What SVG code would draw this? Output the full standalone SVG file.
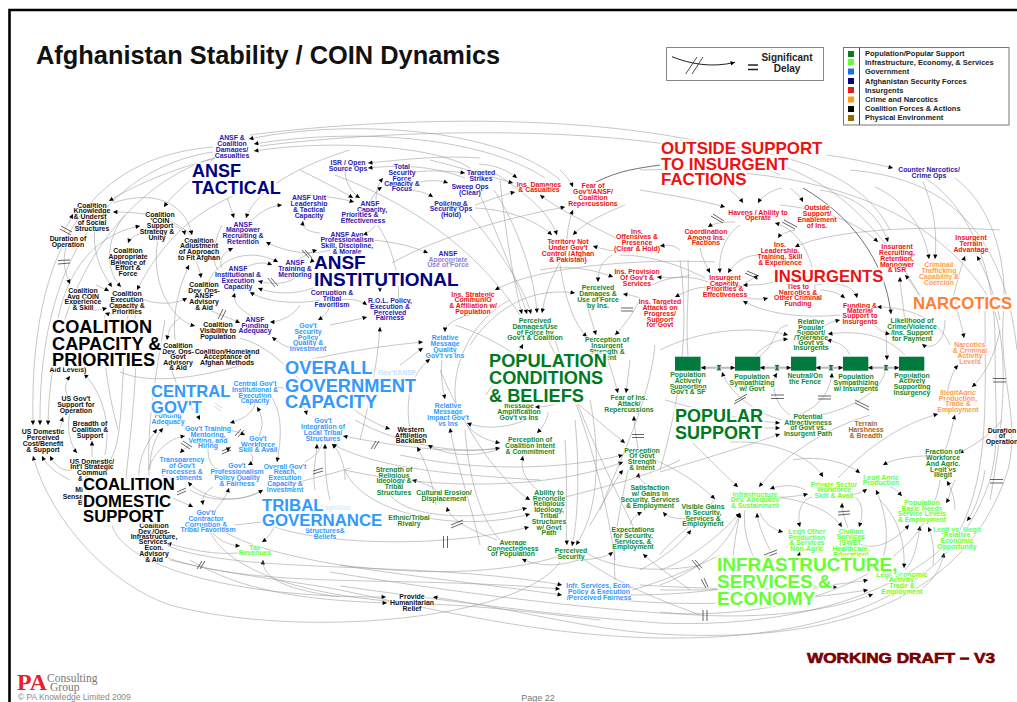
<svg xmlns="http://www.w3.org/2000/svg" width="1017" height="702" viewBox="0 0 1017 702">
<style>
text{font-family:"Liberation Sans",Arial,sans-serif;font-weight:700}
.n text{font-size:6.9px;text-anchor:middle;paint-order:stroke;stroke:#fff;stroke-width:1.5px;stroke-linejoin:round}
.a{fill:#2a20b0}.k{fill:#111}.b{fill:#3399ff}.r{fill:#ee1111}.g{fill:#11882a}.l{fill:#66ff33}.o{fill:#ff9955}.w{fill:#a5622a}
.big text{font-size:17px;paint-order:stroke;stroke:#fff;stroke-width:5px;stroke-opacity:.82;stroke-linejoin:round}
.stock{fill:#007a3d}
#connectors{fill:none;stroke:#999;stroke-width:.55}
#connectors path{marker-end:url(#a)}
#connectors path.na{marker-end:none}
#connectors path.dk{stroke:#333;stroke-width:.7}
#delays path{fill:none;stroke:#222;stroke-width:.7}
#pipes path{fill:none;stroke:#bbb;stroke-width:2;marker-start:url(#a);marker-end:url(#a)}
.leg text{font-size:7.5px;fill:#222}
</style>
<defs>
<marker id="a" viewBox="0 0 6 6" refX="6" refY="3" markerWidth="5" markerHeight="4.4" markerUnits="userSpaceOnUse" orient="auto-start-reverse"><path d="M0,0L6,3L0,6z" fill="#000" stroke="none"/></marker>
<path id="v" d="M-2.2,-2.6H2.2L.5,0L2.2,2.6H-2.2L-.5,0z" fill="#0a7a3a" stroke="#555" stroke-width=".3"/>
</defs>
<rect width="1017" height="702" fill="#fff"/>
<path d="M9.5,702V10H1017" fill="none" stroke="#000" stroke-width="2.6"/>
<text x="36" y="64" font-size="25.4" fill="#111">Afghanistan Stability / COIN Dynamics</text>

<g id="connectors">
<path d="M560,180C500,128 350,118 249,139"/><path d="M545,178C480,135 350,128 254,144"/><path d="M470,168C440,148 340,138 254,151"/>
<path d="M213,147C115,155 28,215 33,425"/><path d="M213,152C125,165 38,240 40,425"/><path d="M215,158C140,178 50,270 48,425"/>
<path d="M215,158C170,170 135,185 109,201"/><path d="M191,235C170,215 140,212 113,212"/><path d="M113,203C150,190 185,200 192,235"/>
<path d="M215,157C200,175 175,190 164,207"/><path d="M55,340C60,280 90,235 140,226"/><path d="M142,233C135,235 130,238 128,243"/><path d="M175,226C180,228 184,231 185,235"/>
<path d="M66,248C62,262 65,272 70,284"/><path d="M64,231C68,225 70,220 73,214"/><path d="M95,228C92,250 100,270 112,287"/><path d="M125,215C105,240 105,270 121,287"/>
<path d="M233,196C190,215 160,245 137,290"/><path d="M96,285C100,287 105,289 109,291"/><path d="M88,310C95,311 100,310 107,308"/><path d="M118,313C112,315 108,314 105,313"/>
<path d="M195,260C198,265 200,270 201,278"/><path d="M175,340C172,310 180,285 189,265"/><path d="M140,298C155,305 175,305 187,298"/><path d="M158,240C150,280 170,320 195,326"/>
<path d="M227,198C230,205 232,212 234,218"/><path d="M350,150C300,165 255,190 246,218"/><path d="M222,268C218,258 225,252 233,248"/><path class="na" d="M222,225C212,245 212,262 218,270"/>
<path d="M250,222C260,212 270,206 282,205"/><path d="M330,250C310,256 285,252 266,242"/><path d="M320,233C308,232 302,228 303,221"/><path d="M298,260C305,256 310,252 317,250"/>
<path d="M207,285C215,262 245,245 278,262"/><path d="M245,268C255,262 265,262 272,265"/><path d="M312,258C311,260 311,262 310,263"/>
<path d="M295,278C285,285 270,284 258,281"/><path d="M320,285C300,295 275,295 258,288"/><path d="M320,300C295,305 265,302 250,292"/><path d="M255,318C240,310 232,302 235,293"/>
<path d="M205,308C220,315 230,318 240,323"/><path d="M300,305C295,315 280,322 270,322"/><path d="M300,350C285,348 278,342 272,337"/><path d="M330,300C332,308 325,316 318,320"/>
<path class="na" d="M240,338C265,345 280,360 300,380"/><path d="M120,372C150,385 200,378 253,362"/>
<path d="M68,397C64,390 65,383 70,376"/><path d="M105,455C112,420 100,390 84,374"/><path d="M60,428C62,423 62,420 63,417"/><path d="M92,457L92,441"/><path d="M70,413C66,425 70,445 77,453"/>
<path d="M560,562C520,620 300,640 170,605C110,585 50,520 33,456"/><path d="M70,480C60,475 48,468 42,456"/><path d="M72,470C62,472 55,465 50,456"/>
<path d="M112,525C122,565 230,598 386,597"/><path d="M190,560C240,590 300,600 387,603"/>
<path class="na" d="M105,315C100,350 110,400 118,430"/><path class="na" d="M128,315C120,370 125,440 110,460"/><path class="na" d="M135,315C140,370 128,450 125,490"/><path class="na" d="M165,320C155,380 145,430 150,490"/>
<path d="M180,318C170,325 168,332 167,340"/><path d="M140,490C135,465 145,445 157,429"/><path d="M150,470C150,450 155,438 163,428"/>
<path d="M172,370C178,395 195,410 200,420"/><path d="M255,403C253,415 240,420 230,423"/><path d="M258,438C265,425 262,415 257,407"/><path d="M225,430C232,430 238,432 245,435"/>
<path d="M148,470C155,450 170,438 185,436"/><path d="M190,445C186,448 183,450 180,453"/><path d="M228,447L228,452"/><path d="M250,452C255,460 252,463 248,465"/><path class="na" d="M208,448C208,465 215,470 222,470"/>
<path d="M270,395C285,415 280,445 277,462"/><path d="M275,387C290,388 300,392 307,415"/><path d="M263,490C240,505 205,500 188,482"/><path d="M190,490C215,505 245,500 263,490"/><path d="M215,510C220,505 226,497 229,488"/>
<path d="M305,462C312,458 320,452 322,444" class="na"/><path d="M315,490C312,475 316,460 317,444"/><path d="M330,500C325,480 325,460 325,444"/><path d="M345,480C345,465 340,452 332,444"/>
<path class="na" d="M290,485C310,478 330,475 350,468"/><path d="M500,448C450,455 390,445 343,436"/><path d="M540,480C460,475 380,470 332,444"/><path d="M400,455C480,472 560,470 623,455"/>
<path d="M168,495C175,500 185,503 193,507"/><path d="M213,487C205,492 202,497 203,505"/><path d="M210,530C218,540 228,545 240,546"/><path d="M275,525C272,532 268,538 262,542"/><path d="M340,597C290,590 262,580 263,560"/>
<path class="na" d="M210,532C230,570 300,600 450,605C500,608 530,612 600,620"/><path class="na" d="M235,525L262,522"/><path d="M238,553C215,555 190,550 167,543"/>
<path d="M168,558C260,590 400,575 560,589"/><path d="M168,546C240,575 420,560 562,585"/><path d="M225,532C280,565 420,575 562,595"/>
<path d="M260,520C300,545 440,550 529,527"/><path d="M345,470C360,510 450,535 530,514"/><path d="M390,495C410,520 480,520 527,508"/><path d="M440,370C470,440 500,480 530,500"/><path class="na" d="M465,430C470,490 485,525 500,540"/>
<path d="M300,362C340,352 390,345 423,342"/><path d="M400,365C410,358 415,353 423,348"/><path d="M410,430C405,400 410,375 430,359"/><path d="M473,314C455,318 445,325 445,332"/><path d="M442,360C440,375 443,390 445,399"/><path d="M365,240C385,240 410,245 428,253"/>
<path d="M455,325C520,345 570,400 625,443"/><path d="M530,418C510,428 485,430 467,423"/><path d="M480,545C470,500 455,460 450,428"/><path d="M560,402C555,405 545,407 535,407"/><path d="M548,412C548,420 542,428 537,433"/>
<path d="M467,425C475,435 485,440 500,443"/><path d="M355,420C400,445 460,455 500,448"/><path d="M540,492C525,480 520,470 523,456"/><path d="M497,450C470,458 445,455 428,445"/><path d="M436,505C432,480 425,460 417,447"/><path d="M355,410C365,418 378,425 390,429"/>
<path d="M436,490C430,485 420,482 412,480"/><path d="M497,540C470,530 450,520 447,507"/><path d="M486,395C495,380 515,360 523,344"/><path class="na" d="M456,403C450,370 470,320 510,300"/>
<path d="M500,180C505,230 515,290 522,314"/><path d="M480,195C500,240 520,290 527,314"/><path d="M470,215C500,250 525,290 531,314"/><path d="M494,190C520,230 535,280 537,313"/><path d="M560,262C550,280 545,295 542,313"/>
<path d="M475,208C510,210 535,220 552,235"/><path d="M493,172C530,195 550,215 557,235"/><path d="M625,205C600,215 582,225 573,235"/><path d="M630,252C617,252 605,250 593,246"/><path d="M680,250C672,244 668,245 660,246"/>
<path d="M392,263C440,235 520,215 565,207"/><path d="M566,262C566,240 568,222 573,210"/><path d="M479,164C495,165 507,170 517,178"/><path d="M430,160C470,170 495,178 513,183"/><path d="M475,205C490,200 502,195 515,192"/><path d="M620,240C590,225 560,210 540,195"/><path d="M560,170C565,175 570,180 573,187"/>
<path d="M415,172C430,170 450,171 465,173"/><path d="M420,182C430,180 440,180 448,183"/><path d="M405,190C415,190 425,192 433,197"/><path d="M480,158C440,155 400,160 368,163"/><path d="M465,178C430,165 400,165 368,168"/>
<path d="M369,205C372,197 376,191 382,187"/><path d="M376,200C376,190 378,184 383,178"/><path d="M300,170C320,180 340,190 353,198"/><path d="M300,195C320,195 340,198 354,202"/><path d="M345,170C345,180 350,192 360,198"/><path d="M375,225C372,230 368,233 363,235"/>
<path d="M380,280L380,292"/><path d="M340,300C350,298 360,300 367,305"/><path d="M330,325C345,322 355,320 367,317"/><path d="M360,440C370,400 378,360 380,327"/><path class="na" d="M378,225C400,260 402,300 395,320"/><path class="na" d="M335,175C400,200 470,240 520,315"/>
<path d="M612,255C600,262 598,272 598,282"/><path d="M540,270C565,265 590,268 613,277"/><path d="M690,275C680,278 668,278 657,277"/><path d="M470,345C500,300 540,288 575,293"/><path d="M640,298C635,296 630,295 623,294"/><path d="M715,262C620,258 530,270 495,290"/>
<path d="M560,265C565,300 575,325 587,337"/><path d="M585,300C590,315 593,325 596,335"/><path d="M640,300C632,315 622,328 615,335"/><path d="M608,360C612,372 615,382 618,393"/><path d="M630,360L626,393"/><path d="M638,448C636,435 634,425 634,416"/>
<path d="M345,470C430,490 550,490 623,462"/><path d="M590,525C605,500 615,480 623,470"/><path d="M646,484C640,480 638,477 639,473"/><path d="M630,525C632,518 636,515 642,512"/><path d="M690,518C680,520 668,518 663,512"/><path d="M690,590C670,575 655,565 643,554"/><path d="M575,560C590,560 605,558 613,552"/><path d="M640,570C660,560 680,545 691,530"/>
<path d="M565,440C568,480 565,520 567,545"/><path d="M575,420C580,470 578,520 572,546"/><path d="M590,400C600,450 600,510 576,545"/><path d="M578,560C555,568 535,565 522,559"/><path class="na" d="M560,556C500,575 420,575 340,565"/><path class="na" d="M585,552C620,575 680,570 700,565"/><path class="na" d="M582,558C620,585 660,600 700,615"/>
<path class="na" d="M632,590C650,585 680,575 720,555"/><path class="na" d="M630,595C680,595 720,590 740,585"/><path class="na" d="M615,580C612,540 620,510 628,470"/><path class="na" d="M535,505C590,490 640,480 680,460"/>
<path class="na" d="M555,340C575,400 590,440 640,540"/><path class="na" d="M548,340C590,420 610,520 615,560"/><path class="na" d="M655,345C650,400 620,460 600,510"/><path class="na" d="M680,260C690,330 680,400 660,470"/>
<path d="M640,190C670,195 700,200 725,207"/><path d="M730,190C735,195 740,198 743,203"/><path d="M782,188C772,190 762,196 758,203"/><path d="M790,188C795,192 800,196 803,202"/><path d="M815,290C815,260 800,230 775,223"/><path d="M735,222C722,222 714,223 708,227"/><path d="M795,230C785,232 780,235 778,238"/><path d="M1000,230C920,225 830,230 795,247"/>
<path d="M700,248C702,258 706,265 710,273"/><path d="M740,225C725,235 718,255 720,273"/><path d="M760,255C745,255 735,262 728,273"/><path d="M745,283C750,280 755,278 758,275"/><path d="M773,282C765,285 755,285 743,285"/><path d="M840,315C810,318 770,316 743,301"/><path d="M740,296C750,299 760,300 768,298"/><path d="M708,287C695,287 685,292 675,297"/><path class="na" d="M620,255C650,255 680,265 705,278"/><path class="na" d="M648,287C670,275 690,275 708,282"/>
<path d="M820,290C830,290 838,293 845,298"/><path d="M815,285C840,280 855,288 857,298"/><path d="M950,345C940,320 910,307 877,307"/><path d="M815,335C822,325 830,322 840,320"/><path d="M780,205C830,210 860,225 878,242"/><path d="M820,190C855,195 880,215 888,242"/><path d="M905,330C905,310 900,290 900,277"/><path d="M925,300C915,290 910,280 905,275"/>
<path d="M875,187C905,200 925,230 929,259"/><path d="M923,182C935,210 937,235 935,259"/><path d="M950,310C955,290 960,270 965,256"/><path d="M1000,320C995,295 985,270 977,256"/><path d="M827,155C850,158 870,163 893,168"/><path class="na dk" d="M596,182C620,170 640,168 660,165"/><path class="dk" d="M803,188C850,215 885,260 891,314"/>
<path class="na" d="M250,135C400,115 700,105 830,190C880,225 920,290 925,310"/><path class="na" d="M260,146C430,125 680,125 780,175"/><path class="na" d="M640,170C800,165 930,200 990,300C1010,340 1005,420 990,500"/><path class="na" d="M850,170C900,175 1000,190 1017,350"/><path class="na" d="M680,140C780,150 860,170 890,230"/>
<path d="M955,300C958,315 962,325 964,338"/><path d="M1000,330C995,355 985,375 972,387"/><path d="M947,410C945,395 950,375 958,365"/><path d="M838,478C870,445 900,425 938,414"/><path d="M945,450C950,440 952,425 955,415"/><path d="M1002,420C990,435 975,445 959,453"/><path d="M955,510C955,500 952,490 947,481"/>
<path d="M782,420C760,415 730,395 722,372"/><path d="M790,415C775,405 770,385 777,373"/><path d="M795,416C815,410 830,395 832,373"/><path d="M886,330L887,360"/><path class="na" d="M800,418C840,415 880,395 885,372"/>
<path d="M665,400C700,410 740,420 780,423"/><path d="M730,425C745,428 765,428 780,428"/><path d="M660,472C700,460 750,445 780,434"/>
<path d="M660,350C700,330 750,325 788,335"/><path d="M755,355C765,345 775,340 788,339"/><path d="M905,355C885,335 860,330 828,334"/><path d="M850,355C845,345 838,342 827,340"/><path d="M872,322C878,330 884,333 890,334"/><path d="M945,320C945,345 930,350 922,344"/><path class="na" d="M688,356C685,320 690,290 688,260"/><path class="na" d="M760,356C780,340 770,330 788,325"/>
<path d="M730,442C770,440 810,455 823,477"/><path d="M793,460C820,455 845,462 860,473"/><path d="M945,456C915,455 895,458 883,465"/><path d="M693,443C710,460 725,475 738,487"/><path d="M870,415C820,430 780,460 759,487"/><path d="M805,490C795,484 780,485 770,489"/><path d="M768,497C785,498 798,496 808,494"/><path d="M838,495C850,496 860,494 867,489"/><path d="M880,565C892,540 885,510 876,490"/><path d="M890,487C895,488 898,492 902,496"/><path d="M955,480C950,490 950,497 946,503"/><path d="M985,470C982,490 975,510 967,521"/><path d="M920,590C935,580 942,565 944,553"/>
<path d="M848,528C845,520 842,512 842,503"/><path d="M855,497C865,505 862,518 859,527"/><path d="M775,497C805,500 830,510 842,527"/><path d="M812,497C800,500 797,515 800,527"/><path d="M760,513C765,525 775,530 783,532"/><path d="M660,570C690,560 720,535 740,513"/><path d="M660,585C700,570 730,545 740,513"/><path d="M733,565C733,545 738,525 740,513"/><path d="M770,550C765,540 758,525 757,513"/><path class="na" d="M745,510C742,530 750,550 755,560"/>
<path d="M860,545C880,550 895,540 909,525"/><path d="M905,570C915,560 918,540 920,526"/><path d="M933,565C935,550 932,535 928,527"/><path d="M880,500C900,520 905,545 904,568"/><path d="M790,570C795,565 798,558 800,552"/>
<path d="M600,598C700,610 800,600 868,590"/><path d="M640,585C720,590 790,590 837,587"/><path d="M660,590C730,590 810,590 868,580"/><path d="M660,612C750,622 830,612 873,594"/>
<path class="na" d="M715,499C700,520 665,545 660,555"/><path d="M650,458C680,470 700,485 715,499"/>
<path d="M955,178C985,200 1010,250 1003,320C1000,380 1020,420 1008,470C960,620 800,642 660,634C590,630 520,610 433,597"/>
<path class="na" d="M925,178C975,210 995,280 995,340C995,420 1000,440 990,480C950,600 820,640 660,638C560,636 480,620 340,590C300,582 230,575 170,560"/>
<path class="na" d="M985,300C985,400 990,470 960,530C900,600 780,628 660,623C560,616 440,600 340,586"/>
<path class="na" d="M940,480C930,560 820,622 660,613C560,606 440,590 330,572"/>
</g>
<g id="delays">
<path d="M61,226L72,232M60,229L71,235M58,260.5L70,260M58,264L70,263M218,319L223,309M221,320L226,310M302,250L309,258M305,250L312,258M268,278L275,287M271,278L278,286M235,436L241,429M238,437L244,430M181,443L190,449M183,441L192,447M222,451L231,447M222,454L231,450M313,471L323,468M313,474L323,471M177,492L186,488M177,495L186,491M197,569L202,561M200,569L205,561M371,449L376,441M374,449L379,441M451,525L463,520M451,528L463,523M443.5,536L443.5,548M447.5,536L447.5,548M632,434.5L644,434.5M632,437.5L644,437.5M621,308L633,308M621,311L633,311M711,216L723,223M713,214L724,221M782,222L795,229M784,220L797,227M745,273L758,279M747,271L759,276M734,404L746,397M735,401L747,394M771,395L784,395M771,398.5L784,398.5M818,396L831,396M818,399L831,399M855,400L869,407M855,403L869,410M993,378.5L1006,378.5M993,382L1006,382M990,479.5L1003,479.5M990,483L1003,483M838,512L850,511M838,515L850,514M764,555L777,550M764,558L777,553M692,560L700,570M695,560L702,568M701,579L706,588M704,578L708,587M703,610L703,621M707,610L707,621"/>
<path d="M215,403L222,408M214,406L221,411" opacity=".25"/>
</g>
<g id="pipes"><path d="M701,367.7H735"/><path d="M760,367.7H791"/><path d="M816,367.7H843"/><path d="M868,367.7H899"/></g>

<g id="n-ansf-damages" class="n a"><text x="232" y="140">ANSF &amp;<tspan x="232" y="146">Coalition</tspan><tspan x="232" y="152">Damages/</tspan><tspan x="232" y="157.6">Casualties</tspan></text></g>
<g id="n-knowledge" class="n k"><text x="92" y="207.6">Coalition<tspan x="92" y="213.3">Knowledge</tspan><tspan x="90" y="219.3">&amp; Underst</tspan><tspan x="92" y="225">of Social</tspan><tspan x="92" y="230.6">Structures</tspan></text></g>
<g id="n-duration" class="n k"><text x="68" y="241">Duration of<tspan x="68" y="246.6">Operation</tspan></text></g>
<g id="n-coin" class="n k"><text x="160" y="217">Coalition<tspan x="160" y="222.6">'COIN</tspan><tspan x="160" y="228.3">Support</tspan><tspan x="157" y="234">Strategy &amp;</tspan><tspan x="157" y="240">Unity</tspan></text></g>
<g id="n-appropriate" class="n k"><text x="128" y="253">Coalition<tspan x="128" y="258.6">Appropriate</tspan><tspan x="128" y="264.6">Balance of</tspan><tspan x="128" y="270.3">Effort &amp;</tspan><tspan x="128" y="276">Force</tspan></text></g>
<g id="n-adjust" class="n k"><text x="199" y="242.6">Coalition<tspan x="199" y="248.3">Adjustment</tspan><tspan x="199" y="254">of Approach</tspan><tspan x="199" y="260">to Fit Afghan</tspan></text></g>
<g id="n-avgcoin" class="n k"><text x="83" y="292.6">Coalition<tspan x="83" y="298.6">Avg COIN</tspan><tspan x="83" y="304.3">Experience</tspan><tspan x="83" y="310">&amp; Skill</tspan></text></g>
<g id="n-exec" class="n k"><text x="127" y="296">Coalition<tspan x="127" y="302">Execution</tspan><tspan x="127" y="307.6">Capacity &amp;</tspan><tspan x="127" y="313.6">Priorities</tspan></text></g>
<g id="n-devops-ansf" class="n k"><text x="204" y="287">Coalition<tspan x="204" y="292.6">Dev. Ops-</tspan><tspan x="204" y="298.3">ANSF</tspan><tspan x="204" y="304.3">Advisory</tspan><tspan x="204" y="310.3">&amp; Aid</tspan></text></g>
<g id="n-manpower" class="n a"><text x="243" y="226.6">ANSF<tspan x="243" y="232.3">Manpower</tspan><tspan x="243" y="238">Recruiting &amp;</tspan><tspan x="243" y="244">Retention</tspan></text></g>
<g id="n-instexec" class="n a"><text x="238" y="271.3">ANSF<tspan x="238" y="277.3">Institutional &amp;</tspan><tspan x="238" y="283">Execution</tspan><tspan x="238" y="289">Capacity</tspan></text></g>
<g id="n-training" class="n a"><text x="295" y="265.3">ANSF<tspan x="295" y="271.3">Training &amp;</tspan><tspan x="295" y="277">Mentoring</tspan></text></g>
<g id="n-unit" class="n a"><text x="309" y="200.3">ANSF Unit<tspan x="309" y="206">Leadership</tspan><tspan x="309" y="211.6">&amp; Tactical</tspan><tspan x="309" y="217.6">Capacity</tspan></text></g>
<g id="n-avgprof" class="n a"><text x="347" y="236.6">ANSF Avg<tspan x="347" y="242.3">Professionalism</tspan><tspan x="347" y="248">Skill, Discipline,</tspan><tspan x="347" y="254">&amp; Morale</tspan></text></g>
<g id="n-isr" class="n a"><text x="348" y="165">ISR / Open<tspan x="348" y="171">Source Ops</tspan></text></g>
<g id="n-total" class="n a"><text x="402" y="169">Total<tspan x="402" y="175">Security</tspan><tspan x="402" y="180.6">Force</tspan><tspan x="402" y="186.3">Capacity &amp;</tspan><tspan x="402" y="191.3">Focus</tspan></text></g>
<g id="n-strikes" class="n a"><text x="481" y="175">Targeted<tspan x="481" y="181">Strikes</tspan></text></g>
<g id="n-sweep" class="n a"><text x="470" y="189.3">Sweep Ops<tspan x="470" y="195.3">(Clear)</tspan></text></g>
<g id="n-policing" class="n a"><text x="451" y="205.6">Policing &amp;<tspan x="451" y="211.3">Security Ops</tspan><tspan x="451" y="217.3">(Hold)</tspan></text></g>
<g id="n-capacity" class="n a"><text x="370" y="206.3">ANSF<tspan x="372" y="211.6">Capacity,</tspan><tspan x="360" y="217.3">Priorities &amp;</tspan><tspan x="363" y="223.3">Effectiveness</tspan></text></g>
<g id="n-force" class="n a"><text x="448" y="255.6">ANSF<tspan x="448" y="261.6" opacity=".55">Appropriate</tspan><tspan x="448" y="267.3" opacity=".55">Use of Force</tspan></text></g>
<g id="n-corrupt" class="n a"><text x="332" y="295.3">Corruption &amp;<tspan x="332" y="301.3">Tribal</tspan><tspan x="332" y="307.3">Favoritism</tspan></text></g>
<g id="n-rol" class="n a"><text x="390" y="303">R.O.L. Policy,<tspan x="390" y="309">Execution &amp;</tspan><tspan x="390" y="314.6">Perceived</tspan><tspan x="390" y="320.3">Fairness</tspan></text></g>
<g id="n-strategic" class="n r"><text x="473" y="296.6">Ins. Strategic<tspan x="473" y="302.3">CommunIO</tspan><tspan x="473" y="308.3">&amp; Affiliation w/</tspan><tspan x="473" y="314">Population</tspan></text></g>
<g id="n-insdmg" class="n r"><text x="539" y="187">Ins. Damages<tspan x="539" y="192.3">&amp; Casualties</tspan></text></g>
<g id="n-fear" class="n r"><text x="593" y="188.3">Fear of<tspan x="593" y="194.3">Gov't/ANSF/</tspan><tspan x="593" y="200.3">Coalition</tspan><tspan x="593" y="206">Repercussions</tspan></text></g>
<g id="n-territory" class="n r"><text x="568" y="244.3">Territory Not<tspan x="568" y="250">Under Gov't</tspan><tspan x="568" y="255.6">Control (Afghan</tspan><tspan x="568" y="261.6">&amp; Pakistan)</tspan></text></g>
<g id="n-offens" class="n r"><text x="637" y="233.6">Ins.<tspan x="637" y="239.3">Offensives &amp;</tspan><tspan x="637" y="245.3">Presence</tspan><tspan x="637" y="251">(Clear &amp; Hold)</tspan></text></g>
<g id="n-prov" class="n r"><text x="637" y="274.3">Ins. Provision<tspan x="637" y="280">Of Gov't &amp;</tspan><tspan x="637" y="285.6">Services</tspan></text></g>
<g id="n-pdmgins" class="n g"><text x="598" y="290.3">Perceived<tspan x="598" y="296">Damages &amp;</tspan><tspan x="598" y="301.6">Use of Force</tspan><tspan x="598" y="307.6">by Ins.</tspan></text></g>
<g id="n-targeted" class="n r"><text x="660" y="304">Ins. Targeted<tspan x="660" y="310">Attacks on</tspan><tspan x="660" y="315.6">Progress/</tspan><tspan x="660" y="321.6">Support</tspan><tspan x="660" y="327.3">for Govt</tspan></text></g>
<g id="n-pdmg" class="n g"><text x="535" y="323">Perceived<tspan x="535" y="329">Damages/Use</tspan><tspan x="535" y="334.6">of Force by</tspan><tspan x="535" y="340.3">Gov't &amp; Coalition</tspan></text></g>
<g id="n-percins" class="n g"><text x="607" y="342.3">Perception of<tspan x="607" y="348.3">Insurgent</tspan><tspan x="607" y="354">Strength &amp;</tspan><tspan x="607" y="359.6">Intent</tspan></text></g>
<g id="n-quality" class="n b"><text x="445" y="340.3">Relative<tspan x="445" y="346.3">Message</tspan><tspan x="445" y="352">Quality</tspan><tspan x="445" y="357.6">Gov't vs Ins</tspan></text></g>
<g id="n-impact" class="n b"><text x="448" y="408.3">Relative<tspan x="448" y="414.3">Message</tspan><tspan x="448" y="420">Impact Gov't</tspan><tspan x="448" y="426">vs Ins</tspan></text></g>
<g id="n-govansf" class="n b" opacity=".3"><text x="397" y="375.3">Gov't/ANSF</text></g>
<g id="n-western" class="n k"><text x="411" y="431.6">Western<tspan x="411" y="437.6">Affiliation</tspan><tspan x="411" y="443.3">Backlash</tspan></text></g>
<g id="n-amp" class="n g"><text x="519" y="408.3">message<tspan x="519" y="414">Amplification</tspan><tspan x="519" y="419.6">Gov't vs Ins</tspan></text></g>
<g id="n-percco" class="n g"><text x="530" y="441.6">Perception of<tspan x="530" y="447.6">Coalition Intent</tspan><tspan x="530" y="453.6">&amp; Commitment</tspan></text></g>
<g id="n-fearins" class="n g"><text x="629" y="400.3">Fear of Ins.<tspan x="629" y="406.3">Attack/</tspan><tspan x="629" y="412">Repercussions</tspan></text></g>
<g id="n-percgov" class="n g"><text x="642" y="452.6">Perception<tspan x="642" y="458.3">Of Govt</tspan><tspan x="642" y="464.3">Strength</tspan><tspan x="642" y="470">&amp; Intent</tspan></text></g>
<g id="n-strength" class="n g"><text x="394" y="471.6">Strength of<tspan x="394" y="477.6">Religious</tspan><tspan x="394" y="483.3">Ideology &amp;</tspan><tspan x="394" y="489">Tribal</tspan><tspan x="394" y="495">Structures</tspan></text></g>
<g id="n-erosion" class="n g"><text x="444" y="495.3">Cultural Erosion/<tspan x="444" y="501">Displacement</tspan></text></g>
<g id="n-ability" class="n g"><text x="549" y="495">Ability to<tspan x="549" y="500.6">Reconcile</tspan><tspan x="549" y="506.3">Religious</tspan><tspan x="549" y="512.3">Ideology,</tspan><tspan x="549" y="518">Tribal</tspan><tspan x="549" y="524">Structures</tspan><tspan x="549" y="529.6">w/ Govt</tspan><tspan x="549" y="534.6">Path</tspan></text></g>
<g id="n-ethnic" class="n g"><text x="409" y="519.6">Ethnic/Tribal<tspan x="409" y="525.6">Rivalry</tspan></text></g>
<g id="n-connect" class="n g"><text x="513" y="545">Average<tspan x="513" y="550.6">Connectedness</tspan><tspan x="513" y="556.3">of Population</tspan></text></g>
<g id="n-security" class="n g"><text x="571" y="553">Perceived<tspan x="571" y="559">Security</tspan></text></g>
<g id="n-satisf" class="n g"><text x="650" y="490.3">Satisfaction<tspan x="650" y="496.3">w/ Gains in</tspan><tspan x="650" y="502">Security, Services</tspan><tspan x="650" y="508">&amp; Employment</tspan></text></g>
<g id="n-expect" class="n g"><text x="633" y="532.3">Expectations<tspan x="633" y="538">for Security,</tspan><tspan x="633" y="543.6">Services, &amp;</tspan><tspan x="633" y="549.3">Employment</tspan></text></g>
<g id="n-infr" class="n b"><text x="599" y="588">Infr, Services, Econ.<tspan x="599" y="594">Policy &amp; Execution</tspan><tspan x="599" y="599.6">/Perceived Fairness</tspan></text></g>
<g id="n-relief" class="n k"><text x="412" y="599">Provide<tspan x="412" y="605">Humanitarian</tspan><tspan x="412" y="611">Relief</tspan></text></g>
<g id="n-tax" class="n l"><text x="255" y="549.6">Tax<tspan x="255" y="555.3">Revenues</tspan></text></g>
<g id="n-contractor" class="n b"><text x="206" y="515">Gov't/<tspan x="206" y="521">Contractor</tspan><tspan x="206" y="526.6">Corruption &amp;</tspan><tspan x="208" y="532.3">Tribal Favoritism</tspan></text></g>
<g id="n-devinfr" class="n k"><text x="154" y="528">Coalition<tspan x="154" y="533.6">Dev./Ops-</tspan><tspan x="154" y="538.6">Infrastructure,</tspan><tspan x="154" y="544.3">Services,</tspan><tspan x="154" y="550.3">Econ.</tspan><tspan x="154" y="556">Advisory</tspan><tspan x="154" y="562">&amp; Aid</tspan></text></g>
<g id="n-mil" class="n k"><text x="83" y="492.3" style="text-anchor:end">Mi<tspan x="83" y="499">Sensa</tspan><tspan x="83" y="505">B</tspan></text></g>
<g id="n-aidlev" class="n k"><text x="68" y="371.5">Aid Levels)</text></g>
<g id="n-usgov" class="n k"><text x="76" y="400.6">US Gov't<tspan x="76" y="406.6">Support for</tspan><tspan x="76" y="412.6">Operation</tspan></text></g>
<g id="n-breadth" class="n k"><text x="90" y="426.3">Breadth of<tspan x="90" y="432.3">Coalition &amp;</tspan><tspan x="90" y="438.3">Support</tspan></text></g>
<g id="n-usdom" class="n k"><text x="43" y="434.3">US Domestic<tspan x="43" y="440.3">Perceived</tspan><tspan x="43" y="446">Cost/Benefit</tspan><tspan x="43" y="452">&amp; Support</tspan></text></g>
<g id="n-usint" class="n k"><text x="92" y="463.6">US Domestic/<tspan x="92" y="469.3">Int'l Strategic</tspan><tspan x="92" y="475.3">Commun</tspan><tspan x="84" y="481">&amp; D</tspan></text></g>
<g id="n-visibility" class="n k"><text x="218" y="327">Coalition<tspan x="218" y="332.6">Visibility to</tspan><tspan x="218" y="338.6">Population</tspan></text></g>
<g id="n-funding" class="n a"><text x="255" y="321.6">ANSF<tspan x="255" y="327.6">Funding</tspan><tspan x="255" y="333.3">Adequacy</tspan></text></g>
<g id="n-secpol" class="n b"><text x="308" y="327.6">Gov't<tspan x="308" y="333.6">Security</tspan><tspan x="308" y="339.6">Policy</tspan><tspan x="308" y="345.3">Quality &amp;</tspan><tspan x="308" y="351">Investment</tspan></text></g>
<g id="n-devgov" class="n k"><text x="178" y="348.3">Coalition<tspan x="178" y="354">Dev. Ops-</tspan><tspan x="178" y="359.3">Govt</tspan><tspan x="178" y="364.6">Advisory</tspan><tspan x="178" y="370">&amp; Aid</tspan></text></g>
<g id="n-homeland" class="n k"><text x="227" y="354">Coalition/Homeland<tspan x="227" y="359.3">Acceptance of</tspan><tspan x="227" y="364.6">Afghan Methods</tspan></text></g>
<g id="n-central" class="n b"><text x="255" y="386">Central Gov't<tspan x="255" y="391.6">Institutional &amp;</tspan><tspan x="255" y="397.6">Execution</tspan><tspan x="255" y="403.3">Capacity</tspan></text></g>
<g id="n-funding-gov" class="n b"><text x="168" y="418">Funding<tspan x="168" y="424">Adequacy</tspan></text></g>
<g id="n-govtrain" class="n b"><text x="208" y="431.3">Gov't Training<tspan x="208" y="437">Mentoring,</tspan><tspan x="208" y="442.6">Vetting, and</tspan><tspan x="208" y="448.3">Hiring</tspan></text></g>
<g id="n-workforce" class="n b"><text x="258" y="440.6">Gov't<tspan x="258" y="446.6">Workforce</tspan><tspan x="258" y="452.3">Skill &amp; Avail</tspan></text></g>
<g id="n-transp" class="n b"><text x="182" y="462.3">Transparency<tspan x="182" y="468">of Gov't</tspan><tspan x="182" y="474">Processes &amp;</tspan><tspan x="182" y="479.6">Investments</tspan></text></g>
<g id="n-prof" class="n b"><text x="237" y="468.3">Gov't<tspan x="237" y="474.3">Professionalism</tspan><tspan x="237" y="480.3">Policy Quality</tspan><tspan x="237" y="486">&amp; Fairness</tspan></text></g>
<g id="n-overall" class="n b"><text x="285" y="468.6">Overall Gov't<tspan x="285" y="474.3">Reach,</tspan><tspan x="285" y="480.3">Execution</tspan><tspan x="285" y="486.3">Capacity &amp;</tspan><tspan x="285" y="492">Investment</tspan></text></g>
<g id="n-integration" class="n b"><text x="323" y="423">Gov't<tspan x="323" y="429">Integration of</tspan><tspan x="323" y="434.6">Local Tribal</tspan><tspan x="323" y="440.6">Structures</tspan></text></g>
<g id="n-beliefs" class="n b"><text x="325" y="533.3">Structures&amp;<tspan x="325" y="538.6">Beliefs</tspan></text></g>
<g id="n-cogn" class="n b" opacity=".2"><text x="335" y="510">Cognition</text></g>
<g id="n-havens" class="n r"><text x="758" y="215">Havens / Ability to<tspan x="758" y="220.3">Operate</tspan></text></g>
<g id="n-outside" class="n r"><text x="817" y="210">Outside<tspan x="817" y="216">Support/</tspan><tspan x="817" y="221.6">Enablement</tspan><tspan x="817" y="227.6">of Ins.</tspan></text></g>
<g id="n-coord" class="n r"><text x="706" y="233.6">Coordination<tspan x="706" y="239.6">Among Ins.</tspan><tspan x="706" y="245.3">Factions</tspan></text></g>
<g id="n-leader" class="n r"><text x="780" y="247.3">Ins.<tspan x="780" y="253">Leadership,</tspan><tspan x="780" y="259">Training, Skill</tspan><tspan x="780" y="264.6">&amp; Experience</tspan></text></g>
<g id="n-inscap" class="n r"><text x="725" y="279.6">Insurgent<tspan x="725" y="285.6">Capacity,</tspan><tspan x="725" y="291.3">Priorities &amp;</tspan><tspan x="725" y="297.3">Effectiveness</tspan></text></g>
<g id="n-ties" class="n r"><text x="798" y="289">Ties to<tspan x="798" y="294.6">Narcotics &amp;</tspan><tspan x="798" y="300.3">Other Criminal</tspan><tspan x="798" y="306">Funding</tspan></text></g>
<g id="n-fundmat" class="n r"><text x="860" y="307.6">Funding &amp;<tspan x="860" y="312.6">Material</tspan><tspan x="860" y="318.3">Support to</tspan><tspan x="860" y="323.6">Insurgents</tspan></text></g>
<g id="n-recruit" class="n r"><text x="897" y="249.3">Insurgent<tspan x="897" y="255">Recruiting,</tspan><tspan x="897" y="261">Retention,</tspan><tspan x="897" y="266.6">Manpower</tspan><tspan x="897" y="272.3">&amp; ISR</tspan></text></g>
<g id="n-counter" class="n a"><text x="929" y="172.3">Counter Narcotics/<tspan x="929" y="178">Crime Ops</tspan></text></g>
<g id="n-terrainadv" class="n r"><text x="971" y="240.3">Insurgent<tspan x="971" y="246">Terrain</tspan><tspan x="971" y="252">Advantage</tspan></text></g>
<g id="n-criminal" class="n o"><text x="939" y="267.3">Criminal/<tspan x="939" y="273">Trafficking</tspan><tspan x="939" y="279">Capability &amp;</tspan><tspan x="939" y="285">Coercion</tspan></text></g>
<g id="n-likely" class="n g"><text x="912" y="322.6">Likelihood of<tspan x="912" y="328.6">Crime/Violence</tspan><tspan x="912" y="335">/Ins. Support</tspan><tspan x="912" y="341">for Payment</tspan></text></g>
<g id="n-relpop" class="n g"><text x="811" y="324">Relative<tspan x="811" y="329.6">Popular</tspan><tspan x="811" y="334.6">Support/</tspan><tspan x="811" y="339.6">/Tolerance</tspan><tspan x="811" y="345">Govt vs</tspan><tspan x="811" y="350.3">Insurgents</tspan></text></g>
<g id="n-pop1" class="n g"><rect class="stock" x="675" y="356.7" width="25.6" height="14"/><text x="688" y="376.6">Population<tspan x="688" y="382.6">Actively</tspan><tspan x="688" y="388.6">Supporting</tspan><tspan x="688" y="394.3">Gov't &amp; SF</tspan></text></g>
<g id="n-pop2" class="n g"><rect class="stock" x="735" y="356.7" width="25.3" height="14"/><text x="752" y="379.3">Population<tspan x="752" y="385.3">Sympathizing</tspan><tspan x="752" y="391">w/ Govt</tspan></text></g>
<g id="n-pop3" class="n g"><rect class="stock" x="791" y="356.7" width="25.3" height="14"/><text x="805" y="378.3">Neutral/On<tspan x="805" y="384">the Fence</tspan></text></g>
<g id="n-pop4" class="n g"><rect class="stock" x="843" y="356.7" width="25.3" height="14"/><text x="856" y="379">Population<tspan x="856" y="384.6">Sympathizing</tspan><tspan x="856" y="390.6">w/ Insurgents</tspan></text></g>
<g id="n-pop5" class="n g"><rect class="stock" x="899" y="356.7" width="25.3" height="14"/><text x="912" y="377.6">Population<tspan x="912" y="383.3">Actively</tspan><tspan x="912" y="389.3">Supporting</tspan><tspan x="912" y="395.3">Insurgency</tspan></text></g>
<g id="valves"><use href="#v" x="719" y="367.7"/><use href="#v" x="777" y="367.7"/><use href="#v" x="831" y="367.7"/><use href="#v" x="886" y="367.7"/></g>
<g id="n-potential" class="n g"><text x="808" y="418.6">Potential<tspan x="808" y="424.6">Attractiveness</tspan><tspan x="808" y="430.3">of Govt vs.</tspan><tspan x="808" y="436.3">Insurgent Path</tspan></text></g>
<g id="n-harsh" class="n w"><text x="866" y="426.3">Terrain<tspan x="866" y="432">Harshness</tspan><tspan x="866" y="438">&amp; Breadth</tspan></text></g>
<g id="n-narclev" class="n o"><text x="970" y="347">Narcotics<tspan x="970" y="352.6">&amp; Criminal</tspan><tspan x="970" y="358.3">Activity</tspan><tspan x="970" y="363.6">Levels</tspan></text></g>
<g id="n-illegit" class="n o"><text x="958" y="394.6">IllegitAgric<tspan x="958" y="400.6">Production,</tspan><tspan x="958" y="406.3">Trade &amp;</tspan><tspan x="958" y="412.3">Employment</tspan></text></g>
<g id="n-duration2" class="n k"><text x="1002" y="432.6">Duration<tspan x="1002" y="438.3">of</tspan><tspan x="1002" y="444">Operation</tspan></text></g>
<g id="n-fraction" class="n g"><text x="943" y="454">Fraction of<tspan x="943" y="460">Workforce</tspan><tspan x="943" y="465.6">And Agric.</tspan><tspan x="943" y="471.6">Legit vs</tspan><tspan x="943" y="477.3">Illegit</tspan></text></g>
<g id="n-legitag" class="n l"><text x="881" y="479.6">Legit Agric<tspan x="881" y="485.3">Production</tspan></text></g>
<g id="n-private" class="n l"><text x="834" y="486.6">Private Sector<tspan x="834" y="492.3">Workforce</tspan><tspan x="834" y="498.3">Skill &amp; Avail</tspan></text></g>
<g id="n-infdev" class="n l"><text x="755" y="496.6">Infrastructure<tspan x="755" y="502.3">Dev. Adequacy</tspan><tspan x="755" y="508">&amp; Sustainment</tspan></text></g>
<g id="n-visible" class="n g"><text x="703" y="509">Visible Gains<tspan x="703" y="515">In Security,</tspan><tspan x="703" y="520.6">Services &amp;</tspan><tspan x="703" y="526.3">Employment</tspan></text></g>
<g id="n-legitoth" class="n l"><text x="807" y="534">Legit Other<tspan x="807" y="539.6">Production</tspan><tspan x="807" y="545.3">&amp; Services</tspan><tspan x="807" y="551">Non-Agric</tspan></text></g>
<g id="n-civil" class="n l"><text x="851" y="534">Civilian<tspan x="851" y="539.3">Services</tspan><tspan x="851" y="545">(SWET,</tspan><tspan x="851" y="551">Healthcare,</tspan><tspan x="851" y="556.6">Education)</tspan></text></g>
<g id="n-basic" class="n l"><text x="922" y="505">Population<tspan x="922" y="510.6">Basic Needs</tspan><tspan x="922" y="516.3">Service Levels</tspan><tspan x="922" y="522.3">&amp; Employment</tspan></text></g>
<g id="n-relopp" class="n l"><text x="957" y="532">Legit vs. Illegit<tspan x="957" y="537.3">Relative</tspan><tspan x="957" y="543">Economic</tspan><tspan x="957" y="549">Opportunity</tspan></text></g>
<g id="n-econ" class="n l"><text x="902" y="576.6">Legit Economic<tspan x="902" y="582.3">Activity,</tspan><tspan x="902" y="588">Trade &amp;</tspan><tspan x="902" y="594">Employment</tspan></text></g>

<g class="big" id="t-tactical" style="fill:#000080"><text x="192" y="177" style="font-size:18px">ANSF</text><text x="192" y="194" style="font-size:18px">TACTICAL</text></g>
<g class="big" id="t-inst" style="fill:#000080"><text x="314" y="268.5" style="font-size:19px">ANSF</text><text x="314" y="285.5" style="font-size:19px">INSTITUTIONAL</text></g>
<g class="big" id="t-coalcap" style="fill:#000"><text x="52" y="332.7" style="font-size:18.2px">COALITION</text><text x="52" y="349.7" style="font-size:18.2px">CAPACITY &amp;</text><text x="52" y="366" style="font-size:18.2px">PRIORITIES</text></g>
<g class="big" id="t-coaldom" style="fill:#000"><text x="83" y="490.3" style="font-size:16.7px">COALITION</text><text x="83" y="506.7" style="font-size:16.7px">DOMESTIC</text><text x="83" y="522.3" style="font-size:16.7px">SUPPORT</text></g>
<g class="big" id="t-central" style="fill:#3399ff"><text x="151" y="397.3" style="font-size:16.6px">CENTRAL</text><text x="151" y="413.3" style="font-size:16.6px">GOV'T</text></g>
<g class="big" id="t-overall" style="fill:#3399ff"><text x="285" y="374.3" style="font-size:18.3px">OVERALL</text><text x="285" y="391.7" style="font-size:18.3px">GOVERNMENT</text><text x="285" y="408.3" style="font-size:18.3px">CAPACITY</text></g>
<g class="big" id="t-tribal" style="fill:#3399ff"><text x="262" y="510.7" style="font-size:16.8px">TRIBAL</text><text x="262" y="526" style="font-size:16.8px">GOVERNANCE</text></g>
<g class="big" id="t-popcond" style="fill:#007a1f"><text x="489" y="366.7" style="font-size:18.2px">POPULATION</text><text x="489" y="384" style="font-size:18.2px">CONDITIONS</text><text x="489" y="401.7" style="font-size:18.2px">&amp; BELIEFS</text></g>
<g class="big" id="t-popsup" style="fill:#007a1f"><text x="675" y="422.3" style="font-size:18px">POPULAR</text><text x="675" y="439.3" style="font-size:18px">SUPPORT</text></g>
<g class="big" id="t-outside" style="fill:#ee1111"><text x="661" y="154.3" style="font-size:16.9px">OUTSIDE SUPPORT</text><text x="661" y="170" style="font-size:16.9px">TO INSURGENT</text><text x="661" y="185" style="font-size:16.9px">FACTIONS</text></g>
<g class="big" id="t-insurg" style="fill:#ee1111"><text x="774" y="281.7" style="font-size:16.7px">INSURGENTS</text></g>
<g class="big" id="t-narc" style="fill:#ff7f33"><text x="913" y="309.3" style="font-size:16.7px">NARCOTICS</text></g>
<g class="big" id="t-infra" style="fill:#66ff33"><text x="717" y="571" style="font-size:19px">INFRASTRUCTURE,</text><text x="717" y="588.3" style="font-size:19px">SERVICES &amp;</text><text x="717" y="605" style="font-size:19px">ECONOMY</text></g>

<g id="delay-key"><rect x="666.5" y="47.5" width="157" height="33" fill="#fff" stroke="#888"/><path d="M672,56.7C690,64 712,68 735,62.3" fill="none" stroke="#222" stroke-width="1" marker-end="url(#a)"/><path d="M685.7,74L697,57M692,74L703,57" fill="none" stroke="#222" stroke-width=".8"/><path d="M748,65H758M748,69.5H758" stroke="#222" stroke-width="1.4" fill="none"/><text x="787" y="60.7" font-size="10" text-anchor="middle" fill="#222">Significant</text><text x="787" y="72" font-size="10" text-anchor="middle" fill="#222">Delay</text></g>
<g id="legend" class="leg"><rect x="843.5" y="47.5" width="165.5" height="77.5" fill="#fff" stroke="#777"/><path d="M859.5,47.5V125" stroke="#444"/>
<rect x="848" y="51" width="6" height="6" fill="#0a7a1a"/><rect x="848" y="59" width="6" height="6" fill="#66ff33"/><rect x="848" y="68.5" width="6" height="6" fill="#1a6ee8"/><rect x="848" y="78" width="6" height="6" fill="#000080"/><rect x="848" y="87" width="6" height="6" fill="#dd2211"/><rect x="848" y="96.5" width="6" height="6" fill="#ff9911"/><rect x="848" y="106" width="6" height="6" fill="#000"/><rect x="848" y="115" width="6" height="6" fill="#9a6600"/>
<text x="865" y="56">Population/Popular Support</text><text x="865" y="65.2">Infrastructure, Economy, &amp; Services</text><text x="865" y="74.4">Government</text><text x="865" y="83.6">Afghanistan Security Forces</text><text x="865" y="92.8">Insurgents</text><text x="865" y="102">Crime and Narcotics</text><text x="865" y="111.2">Coalition Forces &amp; Actions</text><text x="865" y="120.4">Physical Environment</text></g>

<text id="draft" x="807" y="663" font-size="14" fill="#7a0000" stroke="#7a0000" stroke-width=".6" textLength="188" lengthAdjust="spacingAndGlyphs">WORKING DRAFT – V3</text>
<g id="logo"><text x="17" y="690" style="font-family:'Liberation Serif',serif" font-size="23" fill="#e8202a" textLength="30" lengthAdjust="spacingAndGlyphs">PA</text><text x="47" y="681.7" style="font-family:'Liberation Serif',serif;font-weight:400" font-size="11.5" fill="#777">Consulting</text><text x="50" y="690.5" style="font-family:'Liberation Serif',serif;font-weight:400" font-size="11.5" fill="#777">Group</text><text x="18" y="700" font-size="8.4" fill="#888" style="font-weight:400">© PA Knowledge Limited 2009</text></g>
<text id="page" x="538" y="701" font-size="9" text-anchor="middle" fill="#777" style="font-weight:400">Page 22</text>
</svg>
